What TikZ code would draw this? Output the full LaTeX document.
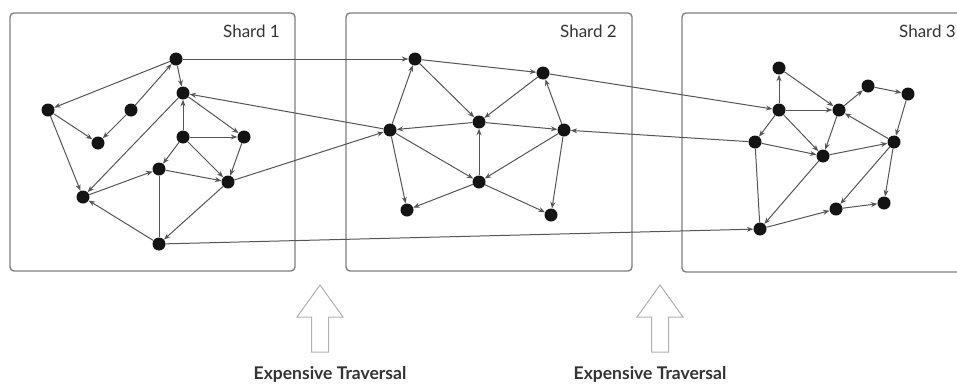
\documentclass[tikz,border=0pt]{standalone}
\usepackage{fontspec}
\setmainfont{Lato}
\usetikzlibrary{arrows.meta}
\definecolor{edgec}{HTML}{555555}
\definecolor{boxc}{HTML}{808080}
\definecolor{txtc}{HTML}{333333}
\definecolor{hollowc}{HTML}{B0B0B0}
\begin{document}
\begin{tikzpicture}[x=1pt,y=-1pt,
  dot/.style={circle,fill=black!92,inner sep=0pt,minimum size=13pt},
  ar/.style={draw=edgec,line width=1pt,-{Stealth[length=6.5pt,width=5pt]}},
  ln/.style={draw=edgec,line width=1pt},
  shardbox/.style={draw=boxc,line width=1.4pt,rounded corners=4pt},
  shardlabel/.style={anchor=base east,text=txtc,font=\fontsize{17}{20}\selectfont,inner sep=0pt},
  costlabel/.style={anchor=base,text=txtc,font=\bfseries\fontsize{17.5}{20}\selectfont,inner sep=0pt},
  hollow/.style={draw=hollowc,line width=1pt,fill=white,line join=miter}]
\useasboundingbox (0,0) rectangle (957,386);
\clip (0,0) rectangle (957,386);
% shard boxes
\draw[shardbox] (10,13) rectangle (295,271);
\draw[shardbox] (346,13) rectangle (632,271);
\draw[shardbox] (682,13) rectangle (972,272);
\node[shardlabel] (l1) at (280,37) {Shard 1};
\node[shardlabel] (l2) at (617,37) {Shard 2};
\node[shardlabel] (l3) at (956,37) {Shard 3};
% shard 1 nodes
\node[dot] (A) at (176,59) {};
\node[dot] (B) at (183,93) {};
\node[dot] (C) at (48,110) {};
\node[dot] (D) at (131,110) {};
\node[dot] (E) at (98,143) {};
\node[dot] (F) at (183,137) {};
\node[dot] (G) at (244,137) {};
\node[dot] (H) at (159,169) {};
\node[dot] (I) at (228,182) {};
\node[dot] (J) at (83,197) {};
\node[dot] (K) at (159,244) {};
% shard 2 nodes
\node[dot] (P) at (415,59) {};
\node[dot] (Q) at (543,73) {};
\node[dot] (R) at (390,130) {};
\node[dot] (S) at (479,122) {};
\node[dot] (T) at (564,130) {};
\node[dot] (U) at (479,182) {};
\node[dot] (V) at (407,210) {};
\node[dot] (W) at (551,215) {};
% shard 3 nodes
\node[dot] (a) at (779,68) {};
\node[dot] (b) at (779,110) {};
\node[dot] (c) at (839,110) {};
\node[dot] (d) at (868,86) {};
\node[dot] (e) at (908,94) {};
\node[dot] (f) at (755,142) {};
\node[dot] (g) at (823,156) {};
\node[dot] (h) at (894,142) {};
\node[dot] (i) at (836,209) {};
\node[dot] (j) at (884,203) {};
\node[dot] (k) at (760,229) {};
% shard 1 edges
\draw[ar] (A) -- (C);
\draw[ar] (D) -- (A);
\draw[ar] (D) -- (E);
\draw[ar] (C) -- (E);
\draw[ar] (C) -- (J);
\draw[ar] (A) -- (B);
\draw[ar] (B) -- (J);
\draw[ar] (F) -- (B);
\draw[ar] (B) -- (G);
\draw[ar] (F) -- (G);
\draw[ar] (F) -- (H);
\draw[ar] (F) -- (I);
\draw[ar] (G) -- (I);
\draw[ar] (H) -- (I);
\draw[ar] (J) -- (H);
\draw[ln] (H) -- (K);
\draw[ar] (K) -- (J);
\draw[ar] (I) -- (K);
% shard 2 edges
\draw[ar] (P) -- (Q);
\draw[ar] (R) -- (P);
\draw[ar] (P) -- (S);
\draw[ar] (Q) -- (S);
\draw[ar] (T) -- (Q);
\draw[ar] (S) -- (R);
\draw[ar] (S) -- (T);
\draw[ar] (U) -- (S);
\draw[ar] (R) -- (U);
\draw[ar] (T) -- (U);
\draw[ar] (R) -- (V);
\draw[ar] (U) -- (V);
\draw[ar] (U) -- (W);
\draw[ar] (T) -- (W);
% shard 3 edges
\draw[ar] (b) -- (a);
\draw[ar] (a) -- (c);
\draw[ar] (b) -- (c);
\draw[ar] (c) -- (d);
\draw[ar] (d) -- (e);
\draw[ar] (e) -- (h);
\draw[ar] (h) -- (c);
\draw[ar] (c) -- (g);
\draw[ar] (b) -- (f);
\draw[ar] (b) -- (g);
\draw[ar] (f) -- (g);
\draw[ar] (g) -- (h);
\draw[ln] (f) -- (k);
\draw[ar] (g) -- (k);
\draw[ar] (k) -- (i);
\draw[ar] (h) -- (i);
\draw[ar] (h) -- (j);
\draw[ar] (i) -- (j);
% cross-shard edges
\draw[ar] (A) -- (P);
\draw[ar] (R) -- (B);
\draw[ar] (I) -- (R);
\draw[ar] (K) -- (k);
\draw[ar] (Q) -- (b);
\draw[ar] (f) -- (T);
% hollow arrows
\foreach \cx in {320,660}{
  \draw[hollow] (\cx-8.5,352) -- (\cx-8.5,317) -- (\cx-23,317) -- (\cx,285)
     -- (\cx+23,317) -- (\cx+8.5,317) -- (\cx+8.5,352) -- cycle;
}
\node[costlabel] (t1) at (330,379) {Expensive Traversal};
\node[costlabel] (t2) at (650,379) {Expensive Traversal};
\end{tikzpicture}
\end{document}
